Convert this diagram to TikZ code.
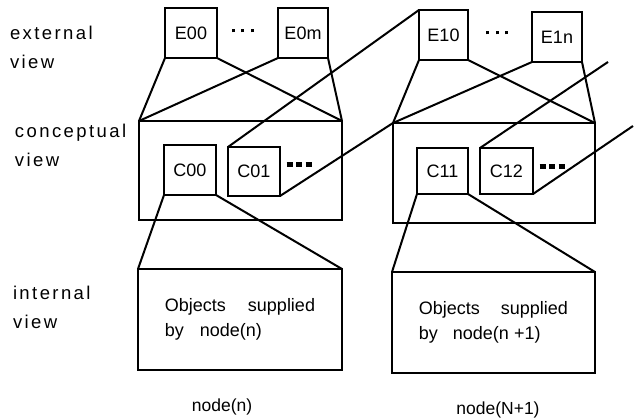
\documentclass[tikz,border=0pt]{standalone}
\usepackage{fontspec}
\setmainfont{Liberation Sans}
\newfontfamily\spacedfont[LetterSpace=13]{Liberation Sans}
\usetikzlibrary{positioning, calc}

\begin{document}
\begin{tikzpicture}[x=1pt, y=-1pt, line width=2pt,
  every node/.style={font=\fontsize{18}{20}\selectfont, outer sep=0pt},
  box/.style={rectangle, draw, line width=2.8pt, inner sep=0pt},
  viewlabel/.style={anchor=west, align=left, inner sep=0pt, font=\spacedfont\fontsize{18.5}{29}\selectfont},
  objtext/.style={box, align=left, font=\fontsize{18}{25}\selectfont},
  nodelabel/.style={font=\fontsize{17.5}{20}\selectfont},
  dotrow/.style={inner sep=0pt}]
\useasboundingbox (0,0) rectangle (641,419);

\node (lblExt) [viewlabel] at (10,47.5) {external\\view};
\node (lblConc) [viewlabel] at (15,145.5) {conceptual\\view};
\node (lblInt) [viewlabel] at (13,307.5) {internal\\view};

\node (E00) [box, minimum width=52, minimum height=50] at (191,33) {E00};
\node (edots0) [dotrow] at (242.5,31) {\rule{3pt}{3pt}\hspace{6.5pt}\rule{3pt}{3pt}\hspace{6.5pt}\rule{3pt}{3pt}};
\node (E0m) [box, minimum width=50, minimum height=50] at (303,33) {E0m};
\node (E10) [box, minimum width=49, minimum height=50] at (443.5,35) {E10};
\node (edots1) [dotrow] at (497,33) {\rule{3pt}{3pt}\hspace{6.5pt}\rule{3pt}{3pt}\hspace{6.5pt}\rule{3pt}{3pt}};
\node (E1n) [box, minimum width=50, minimum height=50] at (557,37) {E1n};

\node (conc0) [box, minimum width=203, minimum height=99] at (240.5,170.5) {};
\node (C00) [box, minimum width=52, minimum height=50] at (190,170) {C00};
\node (C01) [box, minimum width=52, minimum height=49] at (254,171.5) {C01};
\node (sqdots0) [dotrow] at (299,164.5) {\rule{6pt}{5pt}\hspace{3.5pt}\rule{6pt}{5pt}\hspace{3.5pt}\rule{6pt}{5pt}};

\node (conc1) [box, minimum width=202, minimum height=100] at (494,173) {};
\node (C11) [box, minimum width=51, minimum height=46] at (442.5,171) {C11};
\node (C12) [box, minimum width=53, minimum height=46] at (506.5,171) {C12};
\node (sqdots1) [dotrow] at (552,166.5) {\rule{6pt}{5pt}\hspace{3.5pt}\rule{6pt}{5pt}\hspace{3.5pt}\rule{6pt}{5pt}};

\node (int0) [objtext, minimum width=204, minimum height=101] at (240,319.5) {Objects\hspace{17pt} supplied\\by\hspace{11pt} node(n)};
\node (int1) [objtext, minimum width=203, minimum height=101] at (493.5,322.5) {Objects\hspace{16pt} supplied\\by\hspace{10pt} node(n +1)};

\node (foot0) [nodelabel] at (222,407) {node(n)};
\node (foot1) [nodelabel] at (498,410) {node(N+1)};

\coordinate (free1) at (608,62);
\coordinate (free2) at (633,126);

\draw (E00.south west) -- (conc0.north west);
\draw (E0m.south west) -- (conc0.north west);
\draw (E00.south east) -- (conc0.north east);
\draw (E0m.south east) -- (conc0.north east);
\draw (E10.south west) -- (conc1.north west);
\draw (E1n.south west) -- (conc1.north west);
\draw (E10.south east) -- (conc1.north east);
\draw (E1n.south east) -- (conc1.north east);
\draw (C01.north west) -- (E10.north west);
\draw (C01.south east) -- (conc1.north west);
\draw (C12.north west) -- (free1);
\draw (C12.south east) -- (free2);
\draw (C00.south west) -- (int0.north west);
\draw (C00.south east) -- (int0.north east);
\draw (C11.south west) -- (int1.north west);
\draw (C11.south east) -- (int1.north east);
\end{tikzpicture}
\end{document}
